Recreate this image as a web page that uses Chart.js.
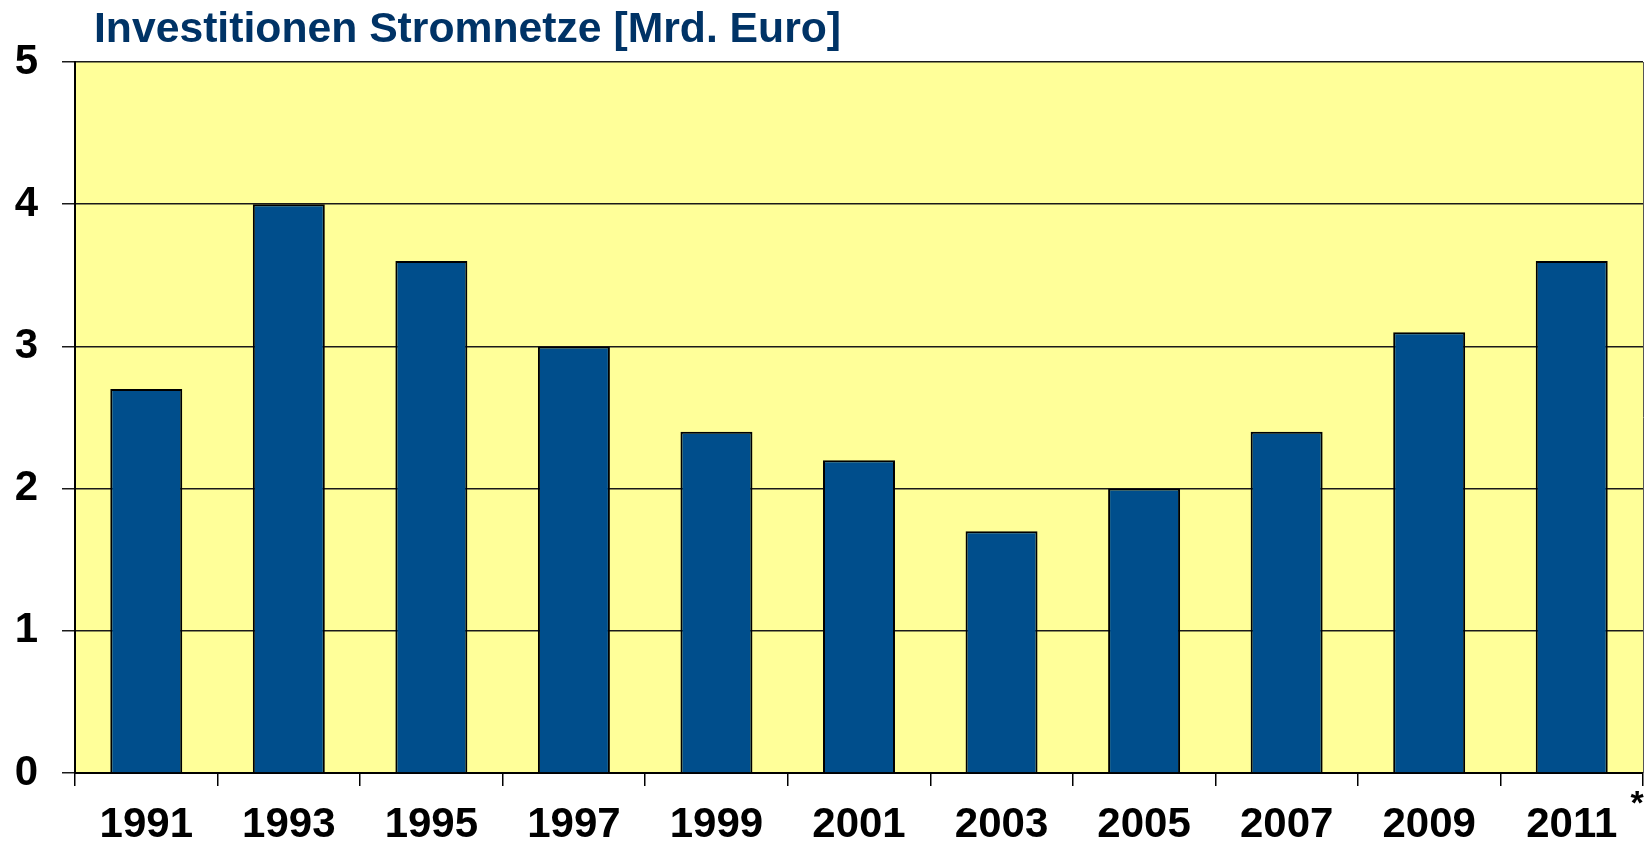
<!DOCTYPE html>
<html>
<head>
<meta charset="utf-8">
<title>Investitionen Stromnetze</title>
<script src="https://cdn.jsdelivr.net/npm/chart.js@4.4.1/dist/chart.umd.min.js"></script>
<style>
    html, body { margin: 0; padding: 0; background: #ffffff; }
    .wrap { position: relative; width: 1652px; height: 843px; }
    #chart { position: absolute; left: 0; top: 0; }
</style>
</head>
<body>
<div class="wrap">
    <canvas id="chart" width="1652" height="843"></canvas>
</div>
<script>
// --- Data ---
const years = ["1991", "1993", "1995", "1997", "1999", "2001", "2003", "2005", "2007", "2009", "2011"];
const investments = [2.7, 4.0, 3.6, 3.0, 2.4, 2.2, 1.7, 2.0, 2.4, 3.1, 3.6];
const yTicks = [0, 1, 2, 3, 4, 5];

const titleText = "Investitionen Stromnetze [Mrd. Euro]";
const footnoteMark = "*";

// yellow plot area, right border, title and the footnote star
const decorations = {
    id: "decorations",
    beforeDraw(chart) {
        const { ctx, chartArea: a } = chart;
        ctx.save();
        ctx.fillStyle = "#FFFF99";
        ctx.fillRect(a.left, a.top, a.right - a.left, a.bottom - a.top);
        ctx.restore();
    },
    afterDraw(chart) {
        const { ctx, chartArea: a } = chart;
        ctx.save();
        ctx.strokeStyle = "#555555";
        ctx.lineWidth = 1;
        ctx.beginPath();
        ctx.moveTo(a.right + 0.5, a.top);
        ctx.lineTo(a.right + 0.5, a.bottom);
        ctx.stroke();

        ctx.fillStyle = "#003366";
        ctx.font = "bold 42.7px 'Liberation Sans', Arial, sans-serif";
        ctx.textBaseline = "alphabetic";
        ctx.textAlign = "left";
        ctx.fillText(titleText, 94, 42);

        ctx.fillStyle = "#000000";
        ctx.font = "bold 34px 'Liberation Sans', Arial, sans-serif";
        ctx.textAlign = "center";
        ctx.fillText(footnoteMark, a.right - 6, a.bottom + 41);
        ctx.restore();
    }
};

const ctx = document.getElementById("chart").getContext("2d");
new Chart(ctx, {
    type: "bar",
    data: {
        labels: years,
        datasets: [{
            data: investments,
            backgroundColor: "#004E8C",
            borderColor: "#000000",
            borderWidth: 2,
            borderSkipped: "bottom",
            barPercentage: 1.0,
            categoryPercentage: 0.505
        }]
    },
    options: {
        responsive: false,
        animation: false,
        layout: { padding: { top: 62, left: 0, right: 9, bottom: 0 } },
        plugins: {
            legend: { display: false },
            tooltip: { enabled: false },
            title: { display: false }
        },
        scales: {
            x: {
                offset: true,
                afterFit: (scale) => { scale.height = 70; },
                grid: {
                    offset: true,
                    drawOnChartArea: false,
                    drawTicks: true,
                    tickLength: 13,
                    color: "#000000",
                    lineWidth: 1.5
                },
                border: { display: true, color: "#000000", width: 2 },
                ticks: {
                    color: "#000000",
                    padding: 14,
                    maxRotation: 0,
                    autoSkip: false,
                    font: { family: "'Liberation Sans', Arial, sans-serif", size: 42, weight: "bold" }
                }
            },
            y: {
                min: 0,
                max: 5,
                afterFit: (scale) => { scale.width = 75; },
                afterBuildTicks: (scale) => { scale.ticks = yTicks.map(v => ({ value: v })); },
                grid: {
                    drawOnChartArea: true,
                    drawTicks: true,
                    tickLength: 13,
                    color: "#1a1a1a",
                    lineWidth: 1.5
                },
                border: { display: true, color: "#000000", width: 2 },
                ticks: {
                    color: "#000000",
                    padding: 24,
                    font: { family: "'Liberation Sans', Arial, sans-serif", size: 42, weight: "bold" }
                }
            }
        }
    },
    plugins: [decorations]
});
</script>
</body>
</html>
